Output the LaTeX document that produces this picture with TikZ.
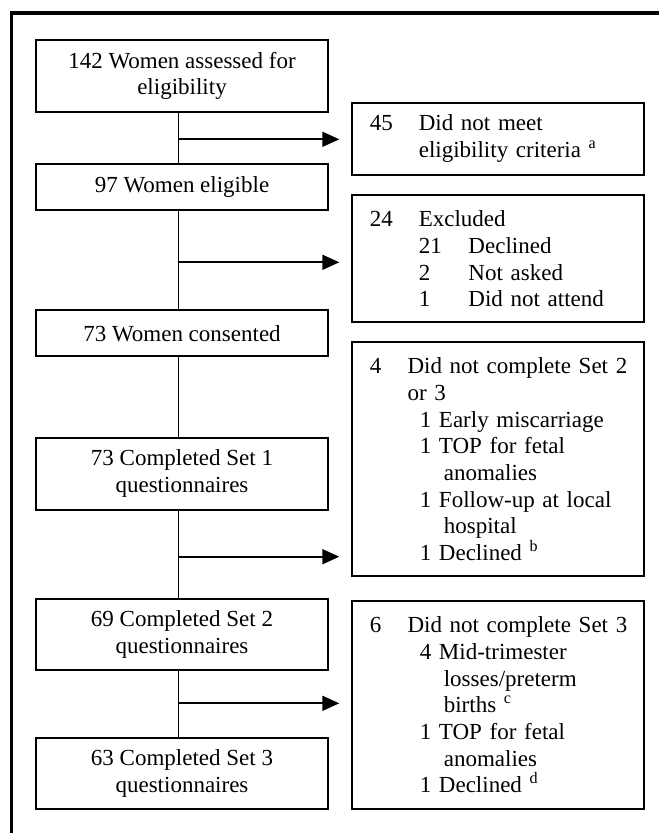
\documentclass[tikz,border=0pt]{standalone}
\usepackage{fontspec}
\setmainfont{Liberation Serif}
\usetikzlibrary{arrows.meta,positioning}

\tikzset{
  box/.style={draw,line width=2pt,inner sep=0pt,font={\fontsize{23}{26.7}\selectfont}},
  leftbox/.style={box,minimum width=292pt,align=center},
  rightbox/.style={box,minimum width=292pt,text width=256pt,inner xsep=18pt,align=left},
  link/.style={line width=1.7pt},
  flow/.style={link,-{Triangle[length=17pt,width=15pt]},shorten >=11.5pt}
}

\begin{document}
\begin{tikzpicture}[x=1pt,y=-1pt]
	\useasboundingbox (0,0) rectangle (659,833);
	% outer frame (left and top only)
	\draw[line width=3.4pt] (11.5,833) -- (11.5,12.8) -- (659,12.8);
	% main flow
	\node[leftbox,minimum height=71.7pt] (b1) at (182,75.9) {142 Women assessed for\\eligibility};
	\node[leftbox,minimum height=45.7pt] (b2) at (182,186.9) {97 Women eligible};
	\node[leftbox,minimum height=46pt] (b3) at (182,333.3) {73 Women consented};
	\node[leftbox,minimum height=72pt] (b4) at (182,473.7) {73 Completed Set 1\\questionnaires};
	\node[leftbox,minimum height=71.3pt] (b5) at (182,634.4) {69 Completed Set 2\\questionnaires};
	\node[leftbox,minimum height=71.3pt] (b6) at (182,773.4) {63 Completed Set 3\\questionnaires};
	% exclusions
	\node[rightbox,minimum height=72pt] (r1) at (497.8,138.7) {\makebox[49pt][l]{45}Did not meet\\\hspace*{49pt}eligibility criteria \textsuperscript{a}};
	\node[rightbox,minimum height=127pt] (r2) at (497.8,258.8) {\makebox[49pt][l]{24}Excluded\\
		\hspace*{49pt}\makebox[49.7pt][l]{21}Declined\\
		\hspace*{49pt}\makebox[49.7pt][l]{2}Not asked\\
		\hspace*{49pt}\makebox[49.7pt][l]{1}Did not attend};
	\node[rightbox,minimum height=234.3pt] (r3) at (497.8,459.2) {\mbox{\makebox[37.7pt][l]{4}Did not complete Set 2}\\
		\hspace*{37.7pt}or 3\\
		\hspace*{50pt}1 Early miscarriage\\
		\hspace*{50pt}1 TOP for fetal\\
		\hspace*{74pt}anomalies\\
		\mbox{\hspace*{50pt}1 Follow-up at local}\\
		\hspace*{74pt}hospital\\
		\hspace*{50pt}1 Declined \textsuperscript{b}};
	\node[rightbox,minimum height=208pt] (r4) at (497.8,705) {\mbox{\makebox[37.7pt][l]{6}Did not complete Set 3}\\
		\hspace*{50pt}4 Mid-trimester\\
		\hspace*{74pt}losses/preterm\\
		\hspace*{74pt}births \textsuperscript{c}\\
		\hspace*{50pt}1 TOP for fetal\\
		\hspace*{74pt}anomalies\\
		\hspace*{50pt}1 Declined \textsuperscript{d}};
	% spine
	\foreach \a/\b in {b1/b2,b2/b3,b3/b4,b4/b5,b5/b6}
		\draw[link] ([xshift=-3.4pt]\a.south) -- ([xshift=-3.4pt]\b.north);
	% branches
	\coordinate (j1) at (178.6,139.3);
	\coordinate (j2) at (178.6,262.3);
	\coordinate (j3) at (178.6,556.7);
	\coordinate (j4) at (178.6,703.3);
	\draw[flow] (j1) -- (j1 -| r1.west);
	\draw[flow] (j2) -- (j2 -| r2.west);
	\draw[flow] (j3) -- (j3 -| r3.west);
	\draw[flow] (j4) -- (j4 -| r4.west);
\end{tikzpicture}
\end{document}
